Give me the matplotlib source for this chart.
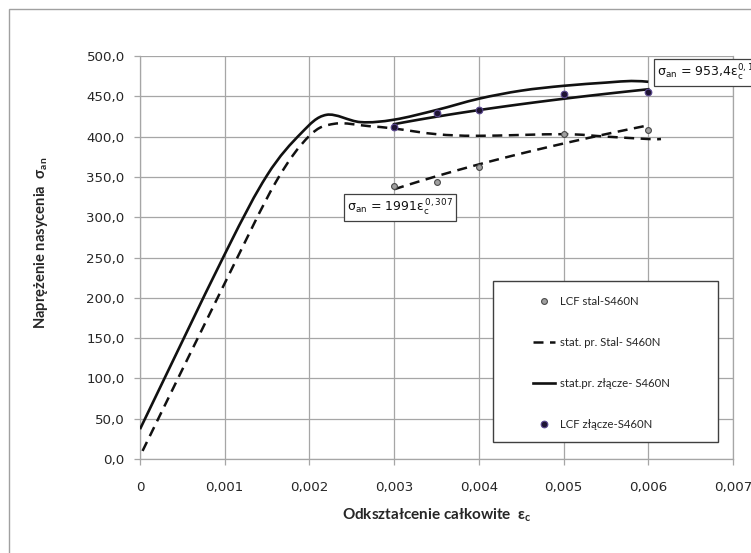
import numpy as np
import matplotlib
matplotlib.use("Agg")
import matplotlib.pyplot as plt
from matplotlib.path import Path
from matplotlib.patches import PathPatch, Rectangle
from matplotlib.lines import Line2D

# ---------------- data ----------------
# LCF points – base steel
lcf_stal_eps = [0.003, 0.0035, 0.004, 0.005, 0.006]
lcf_stal_sig = [339, 344, 362, 403, 408]
# LCF points – welded joint
lcf_zl_eps = [0.003, 0.0035, 0.004, 0.005, 0.006]
lcf_zl_sig = [412, 429, 433, 453, 455]
# static tensile curve – steel (dashed)
stat_stal_eps = [0.00003, 0.001, 0.0016, 0.002, 0.0023, 0.0027, 0.003,
                 0.0035, 0.004, 0.005, 0.0055, 0.006, 0.00615]
stat_stal_sig = [10, 218, 343, 401, 416, 413, 410, 403, 401, 403, 400, 397, 397]
# static tensile curve – joint (solid)
stat_zl_eps = [0.0, 0.001, 0.0015, 0.0019, 0.0022, 0.0026, 0.003,
               0.0035, 0.004, 0.0045, 0.005, 0.0055, 0.0058, 0.006]
stat_zl_sig = [37, 254, 352, 404, 427, 418, 421, 433, 447, 457, 463, 467, 469, 468]
# power trendlines sigma = a * eps^b
trend_stal = (1991.0, 0.307)
trend_zl = (953.4, 0.143)
trend_range = (0.003, 0.006)

y_ticks = [0, 50, 100, 150, 200, 250, 300, 350, 400, 450, 500]
y_ticklabels = ["0,0", "50,0", "100,0", "150,0", "200,0", "250,0", "300,0",
                "350,0", "400,0", "450,0", "500,0"]
x_ticks = [0, 0.001, 0.002, 0.003, 0.004, 0.005, 0.006, 0.007]
x_ticklabels = ["0", "0,001", "0,002", "0,003", "0,004", "0,005", "0,006", "0,007"]

legend_labels = ["LCF stal-S460N", "stat. pr. Stal- S460N",
                 "stat.pr. złącze- S460N", "LCF złącze-S460N"]
ann_stal = r"$\mathrm{\sigma_{an}}$ = 1991$\mathrm{\varepsilon_c^{\,0,307}}$"
ann_zl = r"$\mathrm{\sigma_{an}}$ = 953,4$\mathrm{\varepsilon_c^{0,143}}$"
xlabel = "Odkształcenie całkowite  ε${}_{\\mathregular{c}}$"
ylabel = "Naprężenie nasycenia  σ${}_{\\mathregular{an}}$"

# ---------------- style ----------------
plt.rcParams["font.family"] = ["DejaVu Sans"]
plt.rcParams["mathtext.fontset"] = "dejavusans"
GRID = "#a6a6a6"
DASH = (0, (4.0, 2.6))


def smooth_path(xs, ys):
    pts = np.column_stack([xs, ys]).astype(float)
    n = len(pts)
    verts = [pts[0]]
    codes = [Path.MOVETO]
    for i in range(n - 1):
        p0 = pts[i - 1] if i > 0 else pts[i]
        p1 = pts[i]
        p2 = pts[i + 1]
        p3 = pts[i + 2] if i + 2 < n else pts[i + 1]
        c1 = p1 + (p2 - p0) / 6.0
        c2 = p2 - (p3 - p1) / 6.0
        verts += [c1, c2, p2]
        codes += [Path.CURVE4] * 3
    return Path(verts, codes)


W, H = 751, 553
fig = plt.figure(figsize=(W / 100, H / 100), dpi=100)
fig.patch.set_facecolor("white")
# outer chart frame (cropped on the right/bottom)
fig.patches.append(Rectangle((9 / W, -0.2), 1.5, 1.2 - 9 / H, transform=fig.transFigure,
                             fill=False, edgecolor="#a0a0a0", linewidth=1.0))

ax = fig.add_axes([140 / W, 1 - 459 / H, (733 - 140) / W, (459 - 56) / H])
ax.set_xlim(0, 0.007)
ax.set_ylim(0, 500)
ax.set_xticks(x_ticks)
ax.set_xticklabels(x_ticklabels)
ax.set_yticks(y_ticks)
ax.set_yticklabels(y_ticklabels)
ax.grid(True, color=GRID, linewidth=0.9)
ax.set_axisbelow(True)
for s in ax.spines.values():
    s.set_color(GRID)
    s.set_linewidth(0.9)
ax.spines["top"].set_visible(False)
ax.tick_params(axis="both", colors=GRID, labelcolor="#262626", labelsize=9.6,
               length=4, width=0.9, direction="out")
ax.tick_params(axis="y", pad=7)
ax.tick_params(axis="x", pad=12)
ax.tick_params(top=False, right=False)

# static curves (smoothed)
ax.add_patch(PathPatch(smooth_path(stat_stal_eps, stat_stal_sig), fill=False,
                       edgecolor="#111111", linewidth=1.8, linestyle=DASH, zorder=3))
ax.add_patch(PathPatch(smooth_path(stat_zl_eps, stat_zl_sig), fill=False,
                       edgecolor="#111111", linewidth=1.9, zorder=3))

# trendlines
te = np.linspace(trend_range[0], trend_range[1], 100)
ax.plot(te, trend_stal[0] * te ** trend_stal[1], color="#111111", lw=1.8,
        linestyle=DASH, zorder=3)
ax.plot(te, trend_zl[0] * te ** trend_zl[1], color="#111111", lw=1.9, zorder=3)

# LCF points
ax.plot(lcf_stal_eps, lcf_stal_sig, linestyle="none", marker="o", markersize=4.2,
        markerfacecolor="#a0a0a0", markeredgecolor="#4a4a4a", markeredgewidth=0.8, zorder=4)
ax.plot(lcf_zl_eps, lcf_zl_sig, linestyle="none", marker="o", markersize=4.8,
        markerfacecolor="#1e1433", markeredgecolor="#5a4890", markeredgewidth=0.8, zorder=4)

# annotations
ax.text((343 - 140 + 4) / 593, (459 - 207.5) / 403, ann_stal, transform=ax.transAxes,
        fontsize=9, va="center", ha="left", color="#111111", zorder=6,
        bbox=dict(boxstyle="square,pad=0.25", facecolor="white", edgecolor="#404040", lw=0.9))
ax.text((653 - 140 + 4) / 593, (459 - 72.5) / 403, ann_zl, transform=ax.transAxes,
        fontsize=9, va="center", ha="left", color="#111111", zorder=6,
        bbox=dict(boxstyle="square,pad=0.25", facecolor="white", edgecolor="#404040", lw=0.9))

# legend box + legend
ax.add_patch(Rectangle(((493 - 140) / 593, (459 - 442) / 403), (718 - 493) / 593,
                       (442 - 281) / 403, transform=ax.transAxes, facecolor="white",
                       edgecolor="#404040", linewidth=1.0, zorder=5))
handles = [
    Line2D([], [], linestyle="none", marker="o", markersize=4.2, markerfacecolor="#a0a0a0",
           markeredgecolor="#4a4a4a", markeredgewidth=0.8),
    Line2D([], [], color="#111111", lw=1.8, linestyle=DASH),
    Line2D([], [], color="#111111", lw=1.9),
    Line2D([], [], linestyle="none", marker="o", markersize=4.8, markerfacecolor="#1e1433",
           markeredgecolor="#5a4890", markeredgewidth=0.8),
]
leg = ax.legend(handles, legend_labels, loc="upper left",
                bbox_to_anchor=((533 - 140) / 593, (459 - 296) / 403),
                frameon=False, borderpad=0, borderaxespad=0, handlelength=1.9,
                handletextpad=0.5, labelspacing=2.62,
                prop=dict(family=["Lato", "DejaVu Sans"], size=8.2))
leg.set_zorder(7)
for t in leg.get_texts():
    t.set_color("#262626")

# axis labels
ax.set_xlabel(xlabel, fontsize=11, fontweight="bold", family=["Lato", "DejaVu Sans"],
              color="#262626")
ax.xaxis.set_label_coords(0.5, (459 - 506) / 403)
ax.set_ylabel(ylabel, fontsize=10.6, fontweight="bold", family=["Lato", "DejaVu Sans"],
              color="#262626")
ax.yaxis.set_label_coords((50 - 140) / 593, (459 - 243) / 403)

fig.savefig("out.png", dpi=100)
